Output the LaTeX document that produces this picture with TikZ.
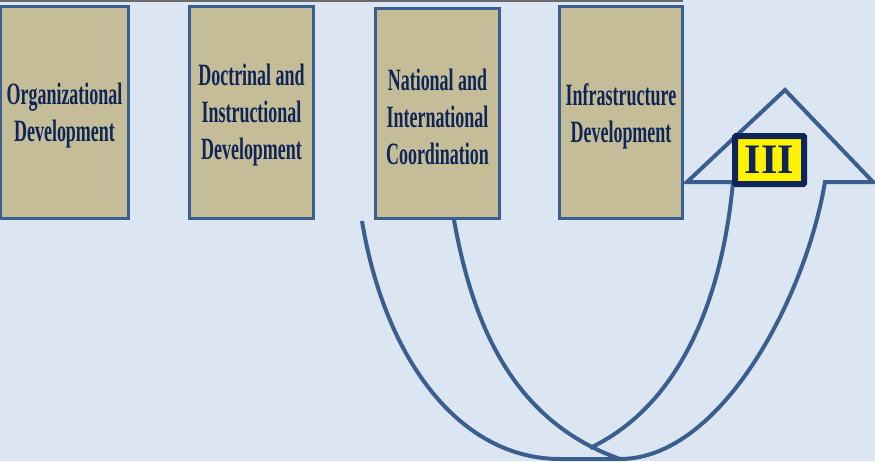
\documentclass[tikz,border=0pt]{standalone}
\usepackage{fontspec}
\setmainfont{Liberation Serif}
\newfontfamily\condfont[FakeStretch=0.58]{Liberation Serif}
\definecolor{bg}{HTML}{DCE6F2}
\definecolor{boxfill}{HTML}{C4BD97}
\definecolor{boxline}{HTML}{3B6090}
\definecolor{navy}{HTML}{0F2557}
\definecolor{arrowline}{HTML}{3A5F8E}
\definecolor{topline}{HTML}{6B6B6B}
\tikzset{
  stagebox/.style={draw=boxline, line width=3pt, fill=boxfill, inner sep=0pt},
  stagetext/.style={text=navy, font=\condfont\bfseries\fontsize{31}{37}\selectfont,
    align=center, inner sep=0pt},
  uturn/.style={draw=arrowline, line width=4pt, line join=miter},
  markbox/.style={draw=navy, line width=6pt, fill=yellow, text=navy, rounded corners=1pt,
    font=\bfseries\fontsize{42}{42}\selectfont, inner sep=0pt,
    minimum width=69pt, minimum height=48pt}
}
\begin{document}
\begin{tikzpicture}[x=1pt,y=-1pt]
\fill[bg] (0,0) rectangle (875,461);
\useasboundingbox (0,0) rectangle (875,461);
\draw[topline, line width=1.6pt] (0,0.8) -- (683,0.8);
\node[stagebox, minimum width=128pt, minimum height=212pt] (b1) at (64.5,112) {};
\node[stagebox, minimum width=124pt, minimum height=212pt] (b2) at (251.5,112.5) {};
\node[stagebox, minimum width=124pt, minimum height=210pt] (b3) at (437.5,113.5) {};
\node[stagebox, minimum width=123pt, minimum height=212pt] (b4) at (621,112.5) {};
\node[stagetext] (t1) at ([yshift=-4pt]b1.center) {Organizational\\Development};
\node[stagetext] (t2) at ([yshift=-3pt]b2.center) {Doctrinal and\\Instructional\\Development};
\node[stagetext] (t3) at ([yshift=-3pt]b3.center) {National and\\International\\Coordination};
\node[stagetext] (t4) at ([yshift=-4pt]b4.center) {Infrastructure\\Development};
% U-turn arrow
\coordinate (ol) at (362,221);
\coordinate (il) at (454,220);
\coordinate (j) at (590,448);
\coordinate (ir) at (733,182);
\coordinate (or) at (825,182);
\coordinate (hl) at (687,182);
\coordinate (hr) at (873,182);
\coordinate (tip) at (785,90);
\draw[uturn] (ol) .. controls (385,360) and (460,459) .. (560,459) -- (620,459)
   .. controls (720,459) and (805,300) .. (or) -- (hr) -- (tip) -- (hl) -- (ir);
\draw[uturn] (il) .. controls (472,320) and (510,420) .. (620,459);
\draw[uturn] (j) .. controls (680,405) and (722,300) .. (ir);
\node[markbox] (m) at (769.5,160) {III};
\end{tikzpicture}
\end{document}
